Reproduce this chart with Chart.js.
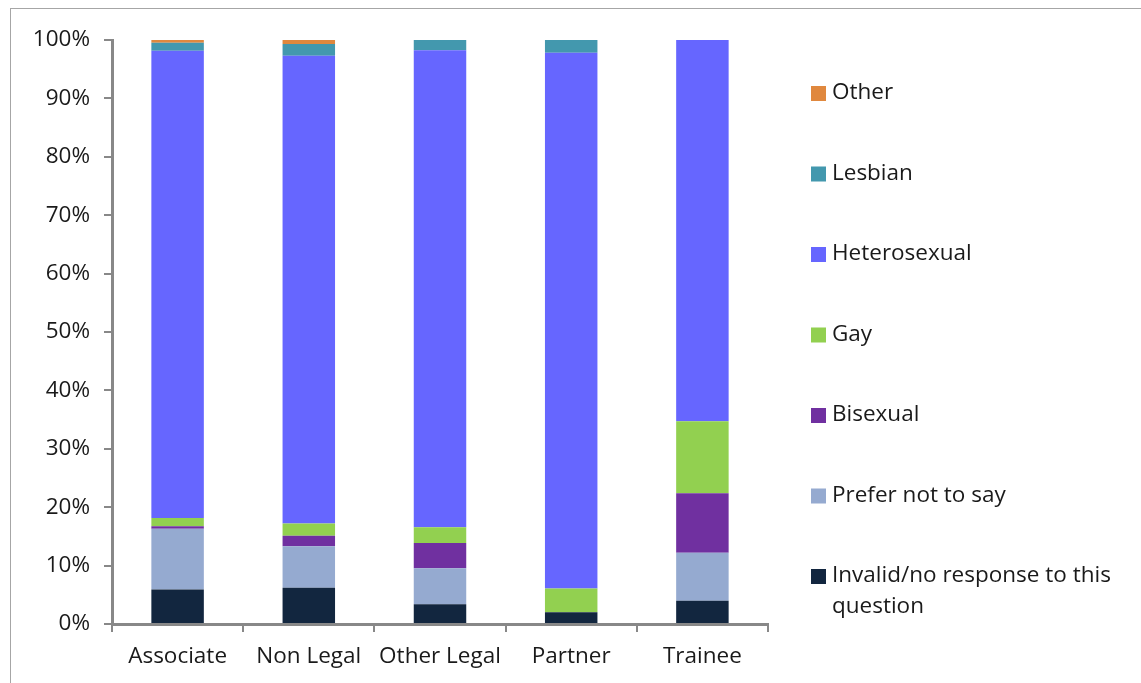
<!DOCTYPE html>
<html>
<head>
<meta charset="utf-8">
<script src="https://cdn.jsdelivr.net/npm/chart.js@4/dist/chart.umd.min.js"></script>
<style>
  html, body { margin: 0; padding: 0; background: #fff; overflow: hidden; }
  #wrap { position: relative; width: 1141px; height: 683px; }
  #frame { position: absolute; left: 10px; top: 8px; width: 1200px; height: 800px; border: 1px solid #a6a6a6; box-sizing: border-box; pointer-events: none; }
  canvas { position: absolute; left: 0; top: 0; }
</style>
</head>
<body>
<div id="wrap">
  <canvas id="c" width="1141" height="683"></canvas>
  <div id="frame"></div>
</div>
<script>
const categories = ["Associate", "Non Legal", "Other Legal", "Partner", "Trainee"];
const invalid      = [5.9, 6.2, 3.4, 2.0, 4.0];
const preferNot    = [10.4, 7.1, 6.15, 0, 8.2];
const bisexual     = [0.45, 1.8, 4.3, 0, 10.2];
const gay          = [1.4, 2.1, 2.7, 4.1, 12.3];
const heterosexual = [80.0, 80.1, 81.7, 91.7, 65.3];
const lesbian      = [1.4, 2.0, 1.75, 2.2, 0];
const other        = [0.55, 0.7, 0, 0, 0];
const yTicks = [0, 10, 20, 30, 40, 50, 60, 70, 80, 90, 100];

const FONT = '"Open Sans", sans-serif';
const TEXT = '#1a1a1a';
const FS = 22.5;

const datasets = [
  { label: "Invalid/no response to this question", legendLines: ["Invalid/no response to this", "question"], data: invalid, backgroundColor: "#12263F" },
  { label: "Prefer not to say", data: preferNot, backgroundColor: "#95AAD0" },
  { label: "Bisexual", data: bisexual, backgroundColor: "#7030A0" },
  { label: "Gay", data: gay, backgroundColor: "#92D050" },
  { label: "Heterosexual", data: heterosexual, backgroundColor: "#6666FF" },
  { label: "Lesbian", data: lesbian, backgroundColor: "#4398AE" },
  { label: "Other", data: other, backgroundColor: "#E0883E" }
];

const sideLegend = {
  id: 'sideLegend',
  afterDraw(chart) {
    const ctx = chart.ctx;
    ctx.save();
    ctx.font = FS + 'px ' + FONT;
    ctx.textBaseline = 'middle';
    ctx.textAlign = 'left';
    const ds = chart.data.datasets.slice().reverse();
    const startY = 93, step = 80.5;
    ds.forEach((d, i) => {
      const y = startY + i * step;
      ctx.fillStyle = d.backgroundColor;
      ctx.fillRect(811, y - 7, 15, 15);
      ctx.fillStyle = TEXT;
      const lines = d.legendLines || [d.label];
      lines.forEach((ln, j) => ctx.fillText(ln, 832, y + j * 31));
    });
    ctx.restore();
  }
};

new Chart(document.getElementById('c'), {
  type: 'bar',
  data: {
    labels: categories,
    datasets: datasets.map(d => Object.assign({ borderWidth: 0, categoryPercentage: 1, barPercentage: 0.4 }, d))
  },
  options: {
    responsive: false,
    animation: false,
    devicePixelRatio: 1,
    layout: { padding: { left: 0, top: 40, right: 373, bottom: 0 } },
    plugins: { legend: { display: false }, tooltip: { enabled: false } },
    scales: {
      x: {
        stacked: true,
        grid: { display: true, offset: true, drawOnChartArea: false, drawTicks: true, tickLength: 8, color: '#888', lineWidth: 2 },
        border: { display: true, color: '#888', width: 3 },
        ticks: { color: TEXT, font: { family: FONT, size: FS }, padding: 11, maxRotation: 0 },
        afterFit(s) { s.height = 59; }
      },
      y: {
        stacked: true,
        min: 0, max: 100,
        afterBuildTicks(s) { s.ticks = yTicks.map(v => ({ value: v })); },
        grid: { display: true, drawOnChartArea: false, drawTicks: true, tickLength: 8, color: '#888', lineWidth: 2 },
        border: { display: true, color: '#888', width: 3 },
        ticks: { color: TEXT, font: { family: FONT, size: FS }, padding: 14, callback: v => v + '%' },
        afterFit(s) { s.width = 112; }
      }
    }
  },
  plugins: [sideLegend]
});
</script>
</body>
</html>
